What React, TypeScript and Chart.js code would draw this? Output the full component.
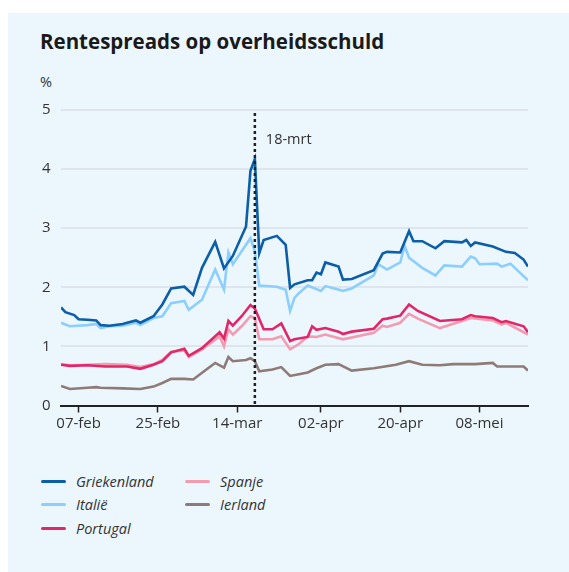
import React, { useEffect, useRef } from "react";
import { Chart, registerables } from "chart.js";

Chart.register(...registerables);

// x values are day offsets from 3 Feb 2020
const tickDays = [4, 22, 40, 59, 77, 95];
const tickLabels = ["07-feb", "25-feb", "14-mar", "02-apr", "20-apr", "08-mei"];
const markerDay = 44;
const markerLabel = "18-mrt";
const xMin = 0;
const xMax = 106;
const yTicks = [0, 1, 2, 3, 4, 5];

const greeceDays = [0,1,3,4,6,8,9,11,14,15,17,18,21,23,25,28,30,32,35,37,39,42,43,44,45,46,49,51,52,53,56,57,58,59,60,63,64,66,71,73,74,77,79,80,82,85,87,91,92,93,94,98,101,103,105,106];
const greeceValues = [1.66,1.58,1.53,1.46,1.45,1.44,1.36,1.35,1.38,1.40,1.44,1.40,1.51,1.71,1.98,2.01,1.87,2.33,2.77,2.32,2.53,3.03,3.97,4.17,2.58,2.80,2.87,2.72,1.99,2.05,2.12,2.12,2.25,2.22,2.42,2.35,2.13,2.14,2.29,2.57,2.60,2.59,2.95,2.78,2.78,2.66,2.78,2.76,2.80,2.70,2.76,2.69,2.60,2.58,2.47,2.35];

const italyDays = [0,2,6,8,9,11,14,17,18,21,23,25,28,29,32,35,37,38,39,43,44,45,49,51,52,53,54,56,59,60,64,66,71,72,74,77,78,79,82,85,87,91,93,94,95,99,100,102,106];
const italyValues = [1.40,1.34,1.36,1.38,1.31,1.34,1.35,1.40,1.36,1.48,1.51,1.73,1.77,1.62,1.79,2.30,1.96,2.59,2.39,2.83,2.61,2.03,2.01,1.96,1.60,1.82,1.90,2.03,1.94,2.02,1.94,1.98,2.20,2.39,2.30,2.42,2.70,2.50,2.33,2.20,2.37,2.35,2.52,2.49,2.39,2.40,2.35,2.40,2.12];

const portugalDays = [0,2,6,10,15,18,21,23,25,28,29,32,36,37,38,39,41,43,44,46,48,50,52,53,56,57,58,60,63,64,66,71,73,74,77,79,81,86,91,93,94,98,100,101,105,106];
const portugalValues = [0.69,0.67,0.68,0.66,0.66,0.62,0.69,0.75,0.90,0.96,0.84,0.97,1.24,1.13,1.43,1.35,1.51,1.70,1.64,1.29,1.29,1.39,1.09,1.12,1.16,1.34,1.28,1.31,1.25,1.21,1.25,1.30,1.46,1.47,1.52,1.71,1.60,1.43,1.46,1.53,1.51,1.48,1.41,1.43,1.34,1.24];

const spainDays = [0,2,6,10,15,18,21,23,25,28,29,32,36,37,38,39,41,43,44,45,48,50,52,54,56,58,60,64,71,73,74,77,79,81,86,91,93,98,100,101,106];
const spainValues = [0.70,0.68,0.69,0.70,0.69,0.65,0.70,0.77,0.91,0.93,0.82,0.95,1.17,1.00,1.29,1.20,1.34,1.51,1.48,1.12,1.12,1.17,0.95,1.04,1.17,1.16,1.20,1.12,1.23,1.35,1.33,1.40,1.55,1.47,1.31,1.43,1.48,1.44,1.37,1.40,1.20];

const irelandDays = [0,2,6,8,9,14,18,21,23,25,28,30,33,35,37,38,39,42,43,44,45,48,50,52,54,56,58,60,63,66,71,76,79,82,86,89,94,98,99,105,106];
const irelandValues = [0.33,0.28,0.30,0.31,0.30,0.29,0.28,0.32,0.38,0.45,0.45,0.44,0.61,0.72,0.64,0.82,0.75,0.77,0.80,0.75,0.58,0.61,0.65,0.50,0.53,0.56,0.63,0.69,0.70,0.59,0.63,0.69,0.75,0.69,0.68,0.70,0.70,0.72,0.66,0.66,0.59];

const seriesNames = ["Griekenland", "Italië", "Portugal", "Spanje", "Ierland"];
const seriesColors = ["#0b5ea8", "#8ccfff", "#e2266a", "#f59bb0", "#8e7b77"];

const FONT = "'Open Sans', 'Noto Sans', sans-serif";
const TEXT = "#333333";

function pts(days: number[], vals: number[]) {
  return days.map((d, i) => ({ x: d, y: vals[i] }));
}

export default function App() {
  const ref = useRef<HTMLCanvasElement | null>(null);

  useEffect(() => {
    if (!ref.current) return;
    const all = [
      pts(greeceDays, greeceValues),
      pts(italyDays, italyValues),
      pts(portugalDays, portugalValues),
      pts(spainDays, spainValues),
      pts(irelandDays, irelandValues),
    ];
    const markerPlugin = {
      id: "marker",
      afterDatasetsDraw(chart: any) {
        const { ctx, chartArea, scales } = chart;
        const x = scales.x.getPixelForValue(markerDay);
        ctx.save();
        ctx.beginPath();
        ctx.setLineDash([3, 3]);
        ctx.lineWidth = 2.5;
        ctx.strokeStyle = "#222222";
        ctx.moveTo(x, chartArea.top + 3);
        ctx.lineTo(x, chartArea.bottom);
        ctx.stroke();
        ctx.setLineDash([]);
        ctx.fillStyle = TEXT;
        ctx.font = `14.5px ${FONT}`;
        ctx.textBaseline = "middle";
        ctx.textAlign = "left";
        ctx.fillText(markerLabel, x + 11, chartArea.top + 30);
        ctx.restore();
      },
    };
    const chart = new Chart(ref.current, {
      type: "line",
      data: {
        datasets: all.map((d, i) => ({
          label: seriesNames[i],
          data: d,
          borderColor: seriesColors[i],
          backgroundColor: seriesColors[i],
          borderWidth: 2.6,
          pointRadius: 0,
          tension: 0,
          fill: false,
        })),
      },
      options: {
        animation: false,
        responsive: false,
        devicePixelRatio: 1,
        layout: { padding: { top: 15, right: 7, left: 0, bottom: 0 } },
        plugins: { legend: { display: false }, tooltip: { enabled: false } },
        scales: {
          x: {
            type: "linear",
            min: xMin,
            max: xMax,
            afterBuildTicks: (s: any) => {
              s.ticks = tickDays.map((v) => ({ value: v }));
            },
            afterFit: (s: any) => {
              s.height = 30.5;
            },
            grid: {
              drawOnChartArea: false,
              drawTicks: true,
              tickLength: 7,
              tickWidth: 1.5,
              tickColor: "#222222",
            },
            border: { display: true, color: "#222222", width: 2 },
            ticks: {
              autoSkip: false,
              maxRotation: 0,
              padding: 2,
              color: TEXT,
              font: { family: FONT, size: 15 },
              callback: (v: any) => {
                const i = tickDays.indexOf(Number(v));
                return i >= 0 ? tickLabels[i] : "";
              },
            },
          },
          y: {
            min: 0,
            max: 5,
            afterBuildTicks: (s: any) => {
              s.ticks = yTicks.map((v) => ({ value: v }));
            },
            afterFit: (s: any) => {
              s.width = 19;
            },
            grid: { color: "#dfe5ec", lineWidth: 2, drawTicks: false },
            border: { display: false },
            ticks: {
              crossAlign: "far",
              padding: 0,
              color: TEXT,
              font: { family: FONT, size: 15 },
            },
          },
        },
      },
      plugins: [markerPlugin],
    } as any);
    return () => chart.destroy();
  }, []);

  const legendItem = (i: number, left: number, top: number) => (
    <div
      key={i}
      style={{ position: "absolute", left, top: top - 10, height: 20, display: "flex", alignItems: "center" }}
    >
      <div style={{ width: 25, height: 3, background: seriesColors[i], borderRadius: 1.5 }} />
      <span style={{ marginLeft: 10, fontStyle: "italic", fontSize: 14.5, color: TEXT, fontFamily: FONT }}>
        {seriesNames[i]}
      </span>
    </div>
  );

  return (
    <div style={{ position: "absolute", left: 0, top: 0, width: 569, height: 572, overflow: "hidden", background: "#ffffff" }}>
      <div style={{ position: "absolute", left: 8, top: 13, right: 0, bottom: 0, background: "#ecf6fd" }} />
      <div
        style={{
          position: "absolute",
          left: 40,
          top: 28,
          fontFamily: FONT,
          fontWeight: 700,
          fontSize: 20.5,
          lineHeight: "27px",
          color: "#1a1a1a",
          whiteSpace: "nowrap",
        }}
      >
        Rentespreads op overheidsschuld
      </div>
      <div style={{ position: "absolute", left: 40, top: 72, fontFamily: FONT, fontSize: 14.5, lineHeight: "20px", color: TEXT }}>
        %
      </div>
      <canvas ref={ref} width={493} height={341} style={{ position: "absolute", left: 42, top: 95, width: 493, height: 341 }} />
      {legendItem(0, 41, 481)}
      {legendItem(1, 41, 504)}
      {legendItem(2, 41, 528)}
      {legendItem(3, 185, 481)}
      {legendItem(4, 185, 504)}
    </div>
  );
}
